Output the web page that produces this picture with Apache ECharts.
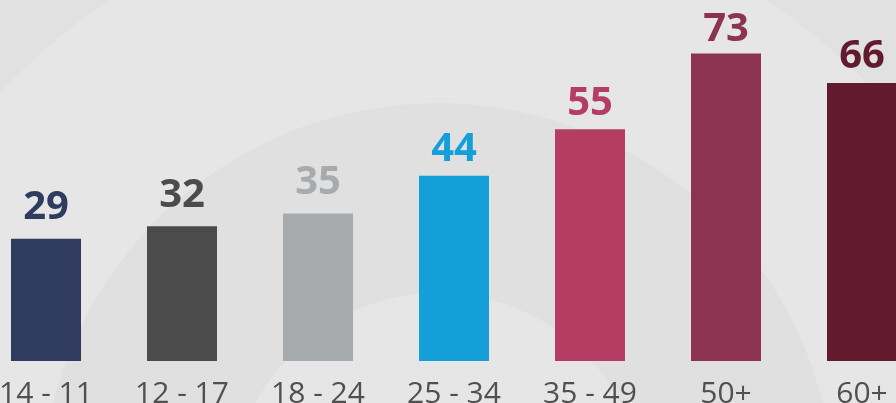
<!DOCTYPE html>
<html>
<head>
<meta charset="utf-8">
<script src="https://cdn.jsdelivr.net/npm/echarts@6/dist/echarts.min.js"></script>
<style>html,body{margin:0;padding:0;background:#e1e1e1;}#c{width:896px;height:403px;}</style>
</head>
<body>
<div id="c"></div>
<script>
const categories = ['14 - 11', '12 - 17', '18 - 24', '25 - 34', '35 - 49', '50+', '60+'];
const values = [29, 32, 35, 44, 55, 73, 66];
const barColors = ['#2f3c60', '#4b4b4b', '#a8abae', '#149fd9', '#b53d63', '#8b3350', '#611a2e'];
const labelGaps = [17, 17, 17, 12, 12, 10, 12];

const chart = echarts.init(document.getElementById('c'), null, {renderer: 'canvas'});
const cx = 438, cy = 500;
chart.setOption({
  backgroundColor: '#e1e1e1',
  animation: false,
  graphic: [
    {type: 'circle', shape: {cx: cx, cy: cy, r: 598}, style: {fill: '#e6e6e6'}, z: -10, silent: true},
    {type: 'circle', shape: {cx: cx, cy: cy, r: 397}, style: {fill: '#e0e0e0'}, z: -9, silent: true},
    {type: 'circle', shape: {cx: cx, cy: cy, r: 207}, style: {fill: '#e6e6e6'}, z: -8, silent: true}
  ],
  grid: {left: -22, width: 952, top: 24, bottom: 42, containLabel: false, outerBoundsMode: 'none'},
  xAxis: {
    type: 'category',
    data: categories,
    axisLine: {show: false},
    axisTick: {show: false},
    axisLabel: {
      interval: 0,
      margin: 18,
      color: '#505050',
      fontFamily: 'Open Sans',
      fontSize: 30,
      fontWeight: 'normal'
    }
  },
  yAxis: {
    type: 'value',
    min: 0,
    max: 80,
    show: false,
    splitLine: {show: false}
  },
  series: [{
    type: 'bar',
    barWidth: 70,
    data: values.map((v, i) => ({
      value: v,
      itemStyle: {color: barColors[i]},
      label: {color: barColors[i], distance: labelGaps[i] - 6}
    })),
    label: {
      show: true,
      position: 'top',
      fontFamily: 'Open Sans',
      fontWeight: 'bold',
      fontSize: 40
    }
  }]
});
</script>
</body>
</html>
